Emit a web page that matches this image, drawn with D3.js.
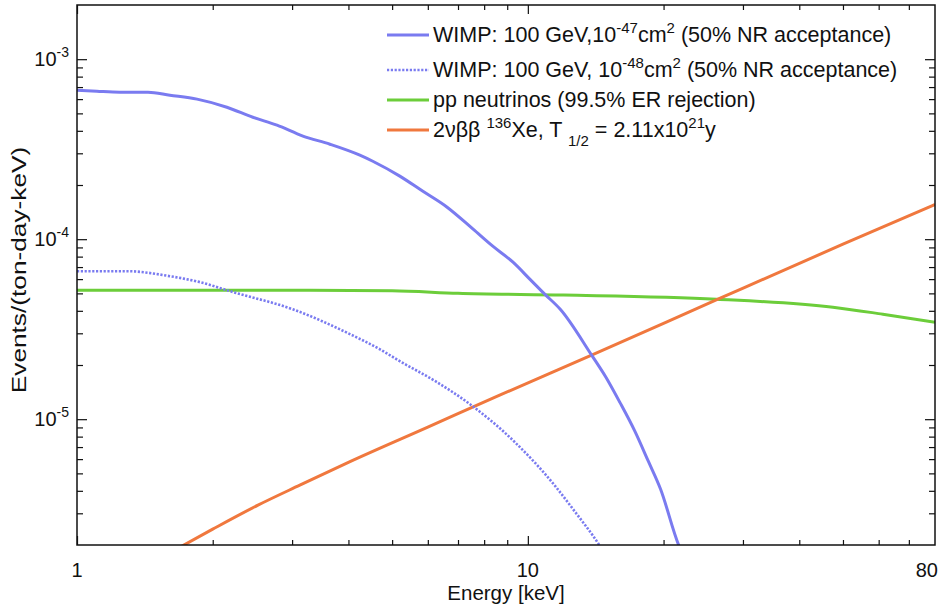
<!DOCTYPE html>
<html lang="en">
<head>
  <meta charset="UTF-8">
  <title>Energy spectrum</title>
  <script src="https://d3js.org/d3.v7.min.js"></script>
  <style>
    body { margin: 0; background: #fff; }
    svg { font-family: "Liberation Sans", Arial, Helvetica, sans-serif; }
    .tick line { stroke: #111; stroke-width: 1.2; }
  </style>
</head>
<body>
  <svg width="940" height="606"></svg>

  <script>
    // WIMP 100 GeV, 1e-47 cm2
    const wimpE = [1, 1.107, 1.245, 1.437, 1.607, 1.846, 2.15, 2.455, 2.777, 3.17, 3.64, 4.24, 4.53, 5.2, 5.84, 6.61, 7.55, 8.36, 9.27, 10.1, 10.9, 11.8, 13.85, 14.9, 16.0, 17.27, 18.5, 19.7, 21.6, 22.5];
    const wimpRate = [6.73e-4, 6.64e-4, 6.56e-4, 6.56e-4, 6.31e-4, 6.0e-4, 5.41e-4, 4.76e-4, 4.3e-4, 3.74e-4, 3.37e-4, 2.93e-4, 2.71e-4, 2.24e-4, 1.85e-4, 1.51e-4, 1.14e-4, 9.14e-5, 7.45e-5, 6.0e-5, 4.95e-5, 4.08e-5, 2.27e-5, 1.71e-5, 1.24e-5, 8.58e-6, 5.84e-6, 4.08e-6, 2.0e-6, 1.6e-6];

    // WIMP 100 GeV, 1e-48 cm2
    const wimp2E = [1, 1.29, 1.607, 1.875, 2.22, 3.01, 4.03, 4.69, 5.2, 6.25, 7.48, 9.36, 11.5, 12.6, 14.4, 15.0];
    const wimp2Rate = [6.64e-5, 6.64e-5, 6.23e-5, 5.77e-5, 5.08e-5, 4.08e-5, 2.97e-5, 2.45e-5, 2.1e-5, 1.62e-5, 1.2e-5, 7.45e-6, 4.25e-6, 3.16e-6, 2.0e-6, 1.7e-6];

    // pp neutrinos
    const ppE = [1, 2, 3, 5, 7, 12, 26.2, 47.5, 61.3, 80];
    const ppRate = [5.21e-5, 5.21e-5, 5.2e-5, 5.17e-5, 5.0e-5, 4.89e-5, 4.64e-5, 4.19e-5, 3.83e-5, 3.46e-5];

    // 2vbb 136Xe
    const bbE = [1.6, 2, 2.52, 3.12, 4.01, 6, 8.66, 13.85, 26.4, 50, 80];
    const bbRate = [1.8e-6, 2.45e-6, 3.33e-6, 4.3e-6, 5.77e-6, 9.03e-6, 1.36e-5, 2.27e-5, 4.64e-5, 9.38e-5, 1.56e-4];

    const xMajor = [1, 10];
    const xMinor = [2, 3, 4, 5, 6, 7, 8, 9, 20, 30, 40, 50, 60, 70];
    const xLabels = [1, 10, 80];
    const yMajor = [1e-5, 1e-4, 1e-3];
    const yMinor = [3e-6, 4e-6, 5e-6, 6e-6, 7e-6, 8e-6, 9e-6,
                    2e-5, 3e-5, 4e-5, 5e-5, 6e-5, 7e-5, 8e-5, 9e-5,
                    2e-4, 3e-4, 4e-4, 5e-4, 6e-4, 7e-4, 8e-4, 9e-4];
    const yExp = ["-5", "-4", "-3"];

    const legendItems = [
      {color: "#7a7bf0", dash: null, parts: [["WIMP: 100 GeV,10"], ["-47", "sup"], ["cm"], ["2", "sup"], [" (50% NR acceptance)"]]},
      {color: "#7a7bf0", dash: "2.2 1.6", parts: [["WIMP: 100 GeV, 10"], ["-48", "sup"], ["cm"], ["2", "sup"], [" (50% NR acceptance)"]]},
      {color: "#6ccd3a", dash: null, parts: [["pp neutrinos (99.5% ER rejection)"]]},
      {color: "#f0783e", dash: null, parts: [["2\u03bd\u03b2\u03b2 "], ["136", "sup"], ["Xe, T "], ["1/2", "sub"], [" = 2.11x10"], ["21", "sup"], ["y"]]}
    ];

    const svg = d3.select("svg");
    const x0 = 77, x1 = 935, y0 = 5, y1 = 545;

    const x = d3.scaleLog().domain([1, 80]).range([x0, x1]);
    const y = d3.scaleLog().domain([2e-6, 2e-3]).range([y1, y0]);

    svg.append("clipPath").attr("id", "plot")
      .append("rect")
        .attr("x", x0).attr("y", y0)
        .attr("width", x1 - x0).attr("height", y1 - y0);

    // ticks, all pointing inward
    function ticks(axis, values, size, transform) {
      const g = svg.append("g")
          .attr("transform", transform)
          .call(axis.tickValues(values).tickSize(-size).tickFormat(""));
      g.select(".domain").remove();
    }
    ticks(d3.axisBottom(x), xMinor, 5, `translate(0,${y1})`);
    ticks(d3.axisBottom(x), xMajor, 9, `translate(0,${y1})`);
    ticks(d3.axisTop(x), xMinor, 5, `translate(0,${y0})`);
    ticks(d3.axisTop(x), xMajor, 9, `translate(0,${y0})`);
    ticks(d3.axisLeft(y), yMinor, 6, `translate(${x0},0)`);
    ticks(d3.axisLeft(y), yMajor, 10, `translate(${x0},0)`);
    ticks(d3.axisRight(y), yMinor, 6, `translate(${x1},0)`);
    ticks(d3.axisRight(y), yMajor, 10, `translate(${x1},0)`);

    // data lines
    const line = d3.line()
        .x(d => x(d[0]))
        .y(d => y(d[1]))
        .curve(d3.curveMonotoneX);

    const plot = svg.append("g").attr("clip-path", "url(#plot)");
    const series = [
      {e: ppE, v: ppRate, item: legendItems[2]},
      {e: bbE, v: bbRate, item: legendItems[3]},
      {e: wimp2E, v: wimp2Rate, item: legendItems[1]},
      {e: wimpE, v: wimpRate, item: legendItems[0]}
    ];
    series.forEach(s => {
      plot.append("path")
          .datum(d3.zip(s.e, s.v))
          .attr("fill", "none")
          .attr("stroke", s.item.color)
          .attr("stroke-width", s.item.dash ? 2.6 : 3)
          .attr("stroke-dasharray", s.item.dash)
          .attr("d", line);
    });

    // frame
    svg.append("rect")
        .attr("x", x0).attr("y", y0)
        .attr("width", x1 - x0).attr("height", y1 - y0)
        .attr("fill", "none").attr("stroke", "#111").attr("stroke-width", 1.5);

    // rich text helper (superscripts / subscripts)
    function richText(g, parts, size, small, shift) {
      let off = 0;
      parts.forEach(([t, kind]) => {
        const target = kind === "sup" ? -shift : kind === "sub" ? shift : 0;
        g.append("tspan")
            .attr("dy", target - off)
            .attr("font-size", kind ? small : size)
            .text(t);
        off = target;
      });
    }

    // x tick labels
    svg.selectAll(".xlab")
      .data(xLabels)
      .enter().append("text")
        .attr("class", "xlab")
        .attr("x", d => d === 80 ? x1 + 3 : x(d))
        .attr("y", 577)
        .attr("text-anchor", d => d === 80 ? "end" : "middle")
        .attr("font-size", 20)
        .attr("fill", "#111")
        .text(d => d);

    // y tick labels
    yMajor.forEach((v, i) => {
      const t = svg.append("text")
          .attr("x", 69)
          .attr("y", y(v) + 7)
          .attr("text-anchor", "end")
          .attr("fill", "#111");
      richText(t, [["10"], [yExp[i], "sup"]], 20, 14, 9);
    });

    // axis titles
    svg.append("text")
        .attr("x", 506)
        .attr("y", 600)
        .attr("text-anchor", "middle")
        .attr("font-size", 20.5)
        .attr("fill", "#111")
        .text("Energy [keV]");

    svg.append("text")
        .attr("transform", "translate(26,270) rotate(-90) scale(1.25,1)")
        .attr("text-anchor", "middle")
        .attr("font-size", 21)
        .attr("fill", "#111")
        .text("Events/(ton-day-keV)");

    // legend
    const legendY = [35, 70, 100, 130];
    legendItems.forEach((item, i) => {
      const g = svg.append("g").attr("transform", `translate(387,${legendY[i]})`);
      g.append("line")
          .attr("x1", 0).attr("x2", 42)
          .attr("stroke", item.color)
          .attr("stroke-width", item.dash ? 2.4 : 3)
          .attr("stroke-dasharray", item.dash);
      const t = g.append("text")
          .attr("x", 46)
          .attr("y", 7)
          .attr("fill", "#111");
      richText(t, item.parts, 21.5, 15, 9);
    });
  </script>
</body>
</html>
